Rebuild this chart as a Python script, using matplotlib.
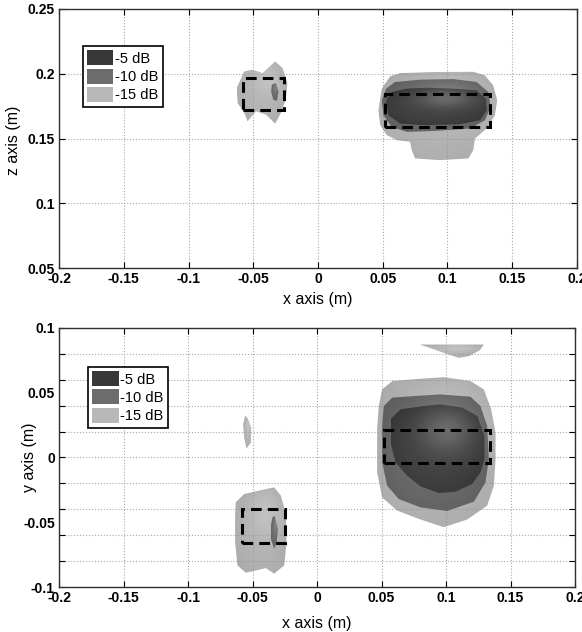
import matplotlib
matplotlib.use("Agg")
import matplotlib.pyplot as plt
from matplotlib.patches import Patch, Rectangle, Polygon
import numpy as np

plt.rcParams['font.family'] = ['Liberation Sans', 'DejaVu Sans']

# ---------------- data ----------------
legend_labels = ["-5 dB", "-10 dB", "-15 dB"]
level_colors = ["#383838", "#6c6c6c", "#b8b8b8"]

x_ticks = [-0.2, -0.15, -0.1, -0.05, 0, 0.05, 0.1, 0.15, 0.2]
x_tick_labels = ["-0.2", "-0.15", "-0.1", "-0.05", "0", "0.05", "0.1", "0.15", "0.2"]
z_ticks = [0.05, 0.1, 0.15, 0.2, 0.25]
z_tick_labels = ["0.05", "0.1", "0.15", "0.2", "0.25"]
y_label_ticks = [-0.1, -0.05, 0, 0.05, 0.1]
y_label_text = ["-0.1", "-0.05", "0", "0.05", "0.1"]
y_grid_ticks = [-0.1, -0.08, -0.06, -0.04, -0.02, 0, 0.02, 0.04, 0.06, 0.08, 0.1]

# top view (x-z) blobs
xz_right_15_x = [0.0467, 0.0492, 0.0557, 0.0634, 0.0891, 0.1199, 0.1289, 0.1353, 0.1384, 0.1366,
                 0.1302, 0.1212, 0.1199, 0.1161, 0.0942, 0.0750, 0.0724, 0.0711, 0.0608, 0.0531, 0.0480]
xz_right_15_z = [0.1718, 0.1885, 0.1980, 0.2005, 0.2013, 0.2015, 0.1987, 0.1910, 0.1795, 0.1680,
                 0.1577, 0.1500, 0.1410, 0.1346, 0.1333, 0.1346, 0.1410, 0.1474, 0.1487, 0.1526, 0.1603]
xz_right_10_x = [0.0492, 0.0526, 0.0595, 0.0788, 0.1045, 0.1225, 0.1315, 0.1333, 0.1289, 0.1174,
                 0.0916, 0.0685, 0.0569, 0.0505]
xz_right_10_z = [0.1795, 0.1885, 0.1936, 0.1954, 0.1959, 0.1936, 0.1859, 0.1744, 0.1641, 0.1577,
                 0.1559, 0.1551, 0.1590, 0.1679]
xz_right_5_x = [0.0526, 0.0569, 0.0685, 0.0839, 0.1045, 0.1225, 0.1297, 0.1302, 0.1251, 0.1096,
                0.0814, 0.0634, 0.0544]
xz_right_5_z = [0.1795, 0.1859, 0.1885, 0.1892, 0.1885, 0.1872, 0.1808, 0.1718, 0.1641, 0.1610,
                0.1603, 0.1615, 0.1679]
xz_left_15_x = [-0.0628, -0.0569, -0.0505, -0.0428, -0.0331, -0.0274, -0.0236, -0.0249, -0.0287,
                -0.0331, -0.0403, -0.0479, -0.0544, -0.0569, -0.0621]
xz_left_15_z = [0.1890, 0.2018, 0.2031, 0.2005, 0.2095, 0.2044, 0.1928, 0.1800, 0.1697,
                0.1615, 0.1685, 0.1710, 0.1633, 0.1697, 0.1774]
xz_left_10_x = [-0.0356, -0.0326, -0.0305, -0.0318, -0.0345, -0.0362]
xz_left_10_z = [0.1915, 0.1928, 0.1864, 0.1790, 0.1800, 0.1864]

# bottom view (x-y) blobs
xy_right_15_x = [0.0505, 0.0583, 0.0802, 0.0983, 0.1190, 0.1293, 0.1350, 0.1384, 0.1384, 0.1371,
                 0.1319, 0.1164, 0.0983, 0.0802, 0.0621, 0.0505, 0.0466, 0.0466, 0.0479]
xy_right_15_y = [0.0526, 0.0590, 0.0608, 0.0620, 0.0590, 0.0526, 0.0372, 0.0192, -0.0013, -0.0218,
                 -0.0372, -0.0479, -0.0538, -0.0479, -0.0410, -0.0308, -0.0115, 0.0218, 0.0397]
xy_right_10_x = [0.0518, 0.0583, 0.0751, 0.0957, 0.1190, 0.1267, 0.1319, 0.1332, 0.1306, 0.1216,
                 0.1009, 0.0802, 0.0634, 0.0544, 0.0505, 0.0505]
xy_right_10_y = [0.0397, 0.0462, 0.0474, 0.0487, 0.0469, 0.0397, 0.0244, -0.0013, -0.0192, -0.0341,
                 -0.0413, -0.0385, -0.0321, -0.0218, -0.0038, 0.0244]
xy_right_5_x = [0.0570, 0.0647, 0.0828, 0.0957, 0.1125, 0.1242, 0.1298, 0.1298, 0.1267, 0.1203,
                0.1074, 0.0944, 0.0802, 0.0699, 0.0609, 0.0570]
xy_right_5_y = [0.0295, 0.0372, 0.0397, 0.0410, 0.0385, 0.0321, 0.0167, -0.0013, -0.0115, -0.0205,
                -0.0264, -0.0274, -0.0223, -0.0141, -0.0038, 0.0115]
xy_top_15_x = [0.0797, 0.1293, 0.1262, 0.1177, 0.1100, 0.0996, 0.0880]
xy_top_15_y = [0.0872, 0.0872, 0.0828, 0.0782, 0.0769, 0.0803, 0.0844]
xy_sliver_15_x = [-0.0557, -0.0536, -0.0510, -0.0513, -0.0547, -0.0565, -0.0573]
xy_sliver_15_y = [0.0326, 0.0300, 0.0231, 0.0115, 0.0069, 0.0154, 0.0256]
xy_left_15_x = [-0.0630, -0.0565, -0.0396, -0.0332, -0.0280, -0.0241, -0.0236, -0.0254, -0.0332,
                -0.0396, -0.0474, -0.0552, -0.0617, -0.0635, -0.0635]
xy_left_15_y = [-0.0346, -0.0282, -0.0244, -0.0231, -0.0295, -0.0436, -0.0654, -0.0833, -0.0897,
                -0.0854, -0.0872, -0.0890, -0.0833, -0.0654, -0.0449]
xy_left_10_x = [-0.0345, -0.0329, -0.0303, -0.0313, -0.0332, -0.0358, -0.0358]
xy_left_10_y = [-0.0462, -0.0449, -0.0551, -0.0654, -0.0705, -0.0628, -0.0526]

# target boxes [x0, x1, lower, upper]
xz_targets = [[-0.058, -0.026, 0.172, 0.197], [0.052, 0.133, 0.159, 0.184]]
xy_targets = [[-0.058, -0.025, -0.066, -0.040], [0.052, 0.134, -0.004, 0.021]]

# ---------------- figure ----------------
fig = plt.figure(figsize=(5.82, 6.32), dpi=100)
ax1 = fig.add_axes([0.1014, 0.5759, 0.8900, 0.4099])
ax2 = fig.add_axes([0.1014, 0.0712, 0.8866, 0.4099])

tick_font = dict(fontsize=10, fontweight='bold')

# surface styling per level: (base gray, highlight amount, alpha)
level_style = {5: (0.27, 0.16, 1.0), 10: (0.40, 0.10, 0.92), 15: (0.60, 0.08, 0.72)}


def style(ax):
    ax.tick_params(direction='in', top=True, right=True, length=4, width=0.8, pad=3)
    ax.grid(True, linestyle=':', color='#a8a8a8', linewidth=0.8)
    ax.set_axisbelow(True)
    for s in ax.spines.values():
        s.set_linewidth(1.0)
        s.set_color('#303030')


def blob(ax, xs, ys, level):
    base, hl, alpha = level_style[level]
    poly = Polygon(np.column_stack([xs, ys]), closed=True, facecolor='none',
                   edgecolor='none', transform=ax.transData)
    ax.add_patch(poly)
    x0, x1 = min(xs), max(xs)
    y0, y1 = min(ys), max(ys)
    n = 120
    u = np.linspace(0, 1, n)[None, :]
    v = np.linspace(0, 1, n)[:, None]
    # soft lit surface: brighter toward upper-centre
    g = base + hl * np.exp(-((u - 0.6) ** 2) / 0.08 - ((v - 0.72) ** 2) / 0.06) \
        - 0.04 * ((u - 0.5) ** 2 + (v - 0.5) ** 2) * 4
    g = np.clip(g, 0, 1)
    rgba = np.dstack([g, g, g, np.full_like(g, alpha)])
    im = ax.imshow(rgba, extent=(x0, x1, y0, y1), origin='lower', aspect='auto',
                   interpolation='bilinear', zorder=2)
    im.set_clip_path(poly)


def target(ax, box):
    x0, x1, lo, hi = box
    ax.add_patch(Rectangle((x0, lo), x1 - x0, hi - lo, fill=False, edgecolor='black',
                           linewidth=2.2, linestyle=(0, (3.5, 2)), zorder=5))


def legend(ax, anchor):
    handles = [Patch(facecolor=c, edgecolor='none') for c in level_colors]
    leg = ax.legend(handles, legend_labels, loc='upper left', bbox_to_anchor=anchor,
                    fontsize=10.5, handlelength=1.8, handleheight=1.2, handletextpad=0.1,
                    labelspacing=0.2, borderpad=0.3, borderaxespad=0, fancybox=False,
                    framealpha=1)
    leg.get_frame().set_edgecolor('black')
    leg.get_frame().set_linewidth(1.2)
    leg.set_zorder(10)


# top: x-z view
style(ax1)
blob(ax1, xz_right_15_x, xz_right_15_z, 15)
blob(ax1, xz_right_10_x, xz_right_10_z, 10)
blob(ax1, xz_right_5_x, xz_right_5_z, 5)
blob(ax1, xz_left_15_x, xz_left_15_z, 15)
blob(ax1, xz_left_10_x, xz_left_10_z, 10)
for b in xz_targets:
    target(ax1, b)
ax1.set_xlim(-0.2, 0.2)
ax1.set_ylim(0.05, 0.25)
ax1.set_xticks(x_ticks, x_tick_labels, **tick_font)
ax1.set_yticks(z_ticks, z_tick_labels, **tick_font)
ax1.set_xlabel("x axis (m)", fontsize=11.5, labelpad=4)
ax1.set_ylabel("z axis (m)", fontsize=11.5)
ax1.yaxis.set_label_coords(-0.074, 0.494)
legend(ax1, (0.046, 0.857))

# bottom: x-y view
style(ax2)
blob(ax2, xy_right_15_x, xy_right_15_y, 15)
blob(ax2, xy_right_10_x, xy_right_10_y, 10)
blob(ax2, xy_right_5_x, xy_right_5_y, 5)
blob(ax2, xy_top_15_x, xy_top_15_y, 15)
blob(ax2, xy_sliver_15_x, xy_sliver_15_y, 15)
blob(ax2, xy_left_15_x, xy_left_15_y, 15)
blob(ax2, xy_left_10_x, xy_left_10_y, 10)
for b in xy_targets:
    target(ax2, b)
ax2.set_xlim(-0.2, 0.2)
ax2.set_ylim(-0.1, 0.1)
ax2.set_xticks(x_ticks, x_tick_labels, **tick_font)
ax2.yaxis.remove_overlapping_locs = False
ax2.set_yticks(y_grid_ticks, [""] * len(y_grid_ticks))
ax2.set_yticks(y_label_ticks, y_label_text, minor=True, **tick_font)
ax2.tick_params(axis='y', which='minor', length=0, left=True, right=False, pad=3)
ax2.tick_params(axis='y', which='major', pad=0)
ax2.grid(False, which='minor')
ax2.set_xlabel("x axis (m)", fontsize=11.5, labelpad=8)
ax2.set_ylabel("y axis (m)", fontsize=11.5)
ax2.yaxis.set_label_coords(-0.042, 0.50)
legend(ax2, (0.056, 0.85))

fig.savefig("out.png", dpi=100)
